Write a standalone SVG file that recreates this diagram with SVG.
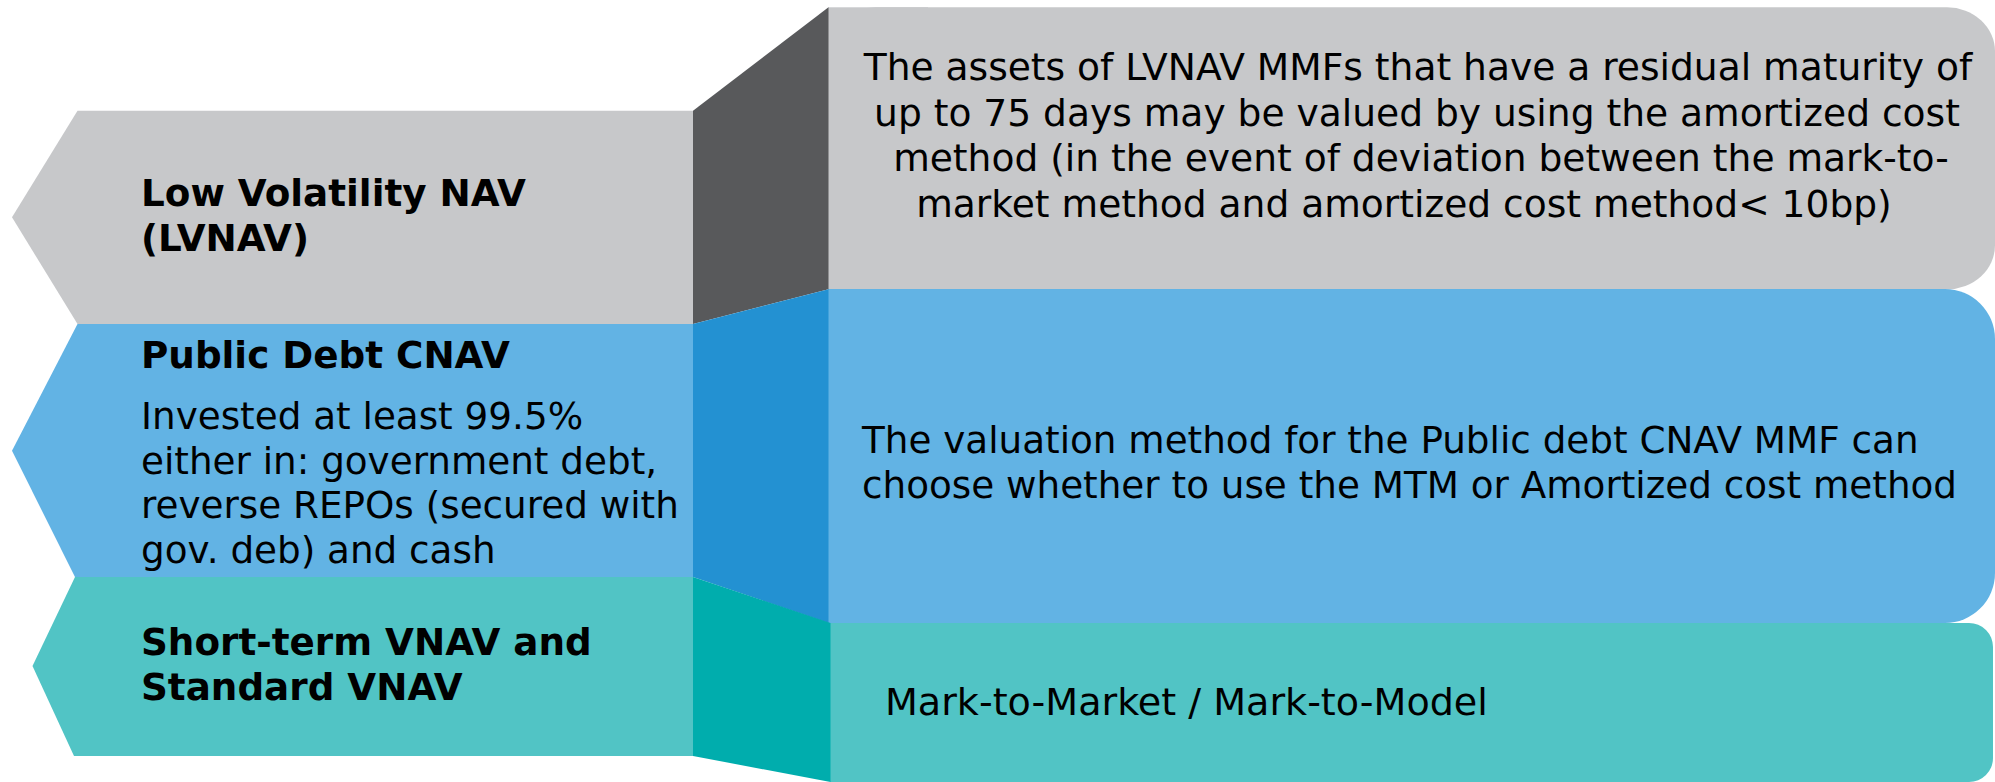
<svg xmlns="http://www.w3.org/2000/svg" width="1995" height="782" viewBox="0 0 1995 782">
<style>
text{font-family:"DejaVu Sans","Verdana",sans-serif;font-size:37.3px;fill:#000}
.b{font-weight:bold}
.m{text-anchor:middle}
.g1{fill:#C7C8CA}.g2{fill:#58595B}
.b1{fill:#62B3E4}.b2{fill:#2391D2}
.t1{fill:#51C4C5}.t2{fill:#00ADAD}
</style>
<rect width="1995" height="782" fill="#FFFFFF"/>
<g id="node-lvnav-desc">
<rect class="g1" x="828" y="7.3" width="1167" height="282" rx="48" ry="44"/>
<rect class="g1" x="828" y="7.3" width="100" height="282"/>
<text class="m" x="1418" y="80" style="font-size:37.6px">The assets of LVNAV MMFs that have a residual maturity of</text>
<text class="m" x="1417" y="125.5" style="font-size:37.6px">up to 75 days may be valued by using the amortized cost</text>
<text class="m" x="1421" y="171" style="font-size:37.6px">method (in the event of deviation between the mark-to-</text>
<text class="m" x="1404" y="216.5" style="font-size:37.6px">market method and amortized cost method&lt; 10bp)</text>
</g>
<g id="node-cnav-desc">
<rect class="b1" x="828" y="289" width="1167" height="334" rx="50" ry="50"/>
<rect class="b1" x="828" y="289" width="100" height="334"/>
<text x="862" y="453">The valuation method for the Public debt CNAV MMF can</text>
<text x="862" y="497.5">choose whether to use the MTM or Amortized cost method</text>
</g>
<g id="node-vnav-desc">
<rect class="t1" x="830" y="623" width="1163" height="159" rx="24" ry="24"/>
<rect class="t1" x="830" y="623" width="100" height="159"/>
<text x="885" y="714.5" style="font-size:38.1px">Mark-to-Market / Mark-to-Model</text>
</g>
<g id="node-lvnav">
<polygon class="g1" points="77.5,110.7 693,110.7 693,324 77.5,324 12,217.3"/>
<text class="b" x="141" y="206">Low Volatility NAV</text>
<text class="b" x="141" y="251">(LVNAV)</text>
</g>
<g id="node-cnav">
<polygon class="b1" points="77.5,324 693,324 693,577 75,577 12,450.7"/>
<text class="b" x="141" y="367.5">Public Debt CNAV</text>
<text x="141" y="429">Invested at least 99.5%</text>
<text x="141" y="473.5">either in: government debt,</text>
<text x="141" y="518">reverse REPOs (secured with</text>
<text x="141" y="562.5">gov. deb) and cash</text>
</g>
<g id="node-vnav">
<polygon class="t1" points="75,577 693,577 693,756 74,756 32.5,666"/>
<text class="b" x="141" y="655">Short-term VNAV and</text>
<text class="b" x="141" y="699.5">Standard VNAV</text>
</g>
<g id="connectors">
<polygon class="g2" points="693,110.7 828.5,7.3 828.5,289.3 693,324"/>
<polygon class="b2" points="693,324 828.5,289.3 828.5,623 693,577"/>
<polygon class="t2" points="693,577 830.5,623 830.5,782 693,756"/>
</g>
</svg>
